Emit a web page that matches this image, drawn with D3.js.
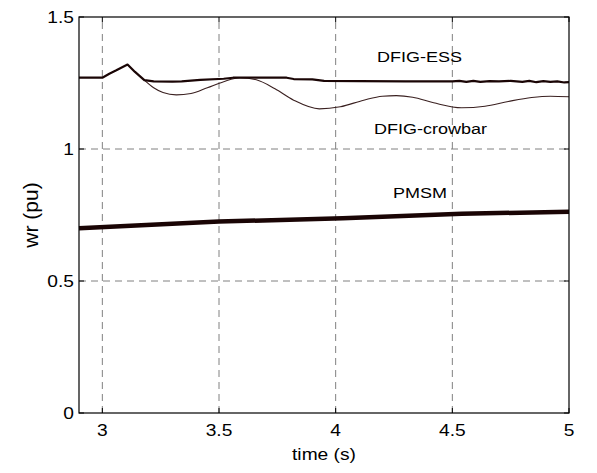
<!DOCTYPE html>
<html>
<head>
<meta charset="utf-8">
<script src="https://cdn.jsdelivr.net/npm/d3@7"></script>
<style>
  html, body { margin: 0; padding: 0; background: #fff; }
  svg { display: block; }
</style>
</head>
<body>
<svg id="chart" width="597" height="473"></svg>
<script>
// ── Data ──────────────────────────────────────────────────────────────────
const xTicks = [3, 3.5, 4, 4.5, 5];
const yTicks = [0, 0.5, 1, 1.5];

const essT = [2.9, 3.0, 3.03, 3.06, 3.108, 3.14, 3.18, 3.22, 3.3, 3.34, 3.42, 3.52, 3.56, 3.7, 3.79, 3.82, 3.9, 3.95, 4.1, 4.3, 4.5,
              4.53, 4.56, 4.59, 4.62, 4.66, 4.7, 4.75, 4.8, 4.83, 4.86, 4.89, 4.92, 4.95, 4.98, 5.0];
const essV = [1.27, 1.27, 1.285, 1.298, 1.32, 1.292, 1.261, 1.256, 1.255, 1.256, 1.262, 1.266, 1.27, 1.27, 1.27, 1.265, 1.264, 1.258, 1.257, 1.256, 1.256,
              1.258, 1.254, 1.258, 1.254, 1.257, 1.256, 1.258, 1.254, 1.258, 1.253, 1.257, 1.254, 1.256, 1.252, 1.253];

const crowT = [3.18, 3.22, 3.26, 3.317, 3.38, 3.45, 3.52, 3.59, 3.66, 3.74, 3.82, 3.93, 4.02, 4.12, 4.2, 4.26, 4.33, 4.42, 4.54, 4.64, 4.74, 4.84, 4.92, 5.0];
const crowV = [1.261, 1.232, 1.214, 1.205, 1.21, 1.232, 1.255, 1.27, 1.262, 1.228, 1.185, 1.152, 1.16, 1.185, 1.2, 1.202, 1.196, 1.175, 1.156, 1.162, 1.18, 1.195, 1.2, 1.198];

const pmsmT = [2.9, 3.5, 4.03, 4.54, 5.0];
const pmsmV = [0.70, 0.725, 0.738, 0.755, 0.762];

// ── Layout ────────────────────────────────────────────────────────────────
const L = 79, R = 569, T = 17, B = 413;
const FONT = "'Liberation Sans', Arial, sans-serif";
const INK = '#1a0505';
const SX = 1.2; // the original figure is stretched horizontally

const svg = d3.select('#chart');
const x = d3.scaleLinear().domain([2.9, 5]).range([L, R]);
const y = d3.scaleLinear().domain([0, 1.5]).range([B, T]);

// stretched text helper
function label(txt, px, py, anchor, size, sx) {
  svg.append('text')
    .attr('transform', `translate(${px},${py}) scale(${sx},1)`)
    .attr('text-anchor', anchor)
    .attr('font-family', FONT).attr('font-size', size).attr('fill', '#000')
    .text(txt);
}

// Grid (dashed)
const grid = svg.append('g').attr('stroke', '#808080').attr('stroke-width', 1).attr('stroke-dasharray', '7,5');
grid.selectAll('.vg').data(xTicks.filter(d => d < 5)).join('line')
  .attr('x1', d => x(d)).attr('x2', d => x(d)).attr('y1', B).attr('y2', T);
grid.selectAll('.hg').data(yTicks.filter(d => d > 0 && d < 1.5)).join('line')
  .attr('x1', L).attr('x2', R).attr('y1', d => y(d)).attr('y2', d => y(d));

// Curves
const line = (ts, vs) => d3.line().x((d, i) => x(ts[i])).y(d => y(d))(vs);
const smooth = (ts, vs) => d3.line().curve(d3.curveMonotoneX).x((d, i) => x(ts[i])).y(d => y(d))(vs);

svg.append('path').attr('d', smooth(crowT, crowV))
  .attr('fill', 'none').attr('stroke', '#3a2020').attr('stroke-width', 1.1);
svg.append('path').attr('d', line(essT, essV))
  .attr('fill', 'none').attr('stroke', INK).attr('stroke-width', 2.2).attr('stroke-linejoin', 'round');
svg.append('path').attr('d', line(pmsmT, pmsmV))
  .attr('fill', 'none').attr('stroke', INK).attr('stroke-width', 4.5);

// Box
svg.append('rect').attr('x', L).attr('y', T).attr('width', R - L).attr('height', B - T)
  .attr('fill', 'none').attr('stroke', '#000').attr('stroke-width', 1.2);

// Ticks (inside, MATLAB style)
const tk = svg.append('g').attr('stroke', '#000').attr('stroke-width', 1);
xTicks.forEach(d => {
  tk.append('line').attr('x1', x(d)).attr('x2', x(d)).attr('y1', B).attr('y2', B - 5);
  tk.append('line').attr('x1', x(d)).attr('x2', x(d)).attr('y1', T).attr('y2', T + 5);
});
yTicks.forEach(d => {
  tk.append('line').attr('x1', L).attr('x2', L + 5).attr('y1', y(d)).attr('y2', y(d));
  tk.append('line').attr('x1', R).attr('x2', R - 5).attr('y1', y(d)).attr('y2', y(d));
});

// Tick labels
xTicks.forEach(d => label(String(d), x(d), 436, 'middle', 16, SX));
yTicks.forEach(d => label(String(d), L - 5, y(d) + 6, 'end', 16, SX));

// Axis titles
label('time (s)', (L + R) / 2, 460, 'middle', 16, SX);
svg.append('text')
  .attr('transform', `translate(38,${(T + B) / 2}) rotate(-90)`)
  .attr('text-anchor', 'middle')
  .attr('font-family', FONT).attr('font-size', 21).attr('fill', '#000')
  .text('wr (pu)');

// Curve annotations
label('DFIG-ESS', 377, 62, 'start', 15, SX);
label('DFIG-crowbar', 374, 134, 'start', 15, SX);
label('PMSM', 393, 198, 'start', 15, SX);
</script>
</body>
</html>
